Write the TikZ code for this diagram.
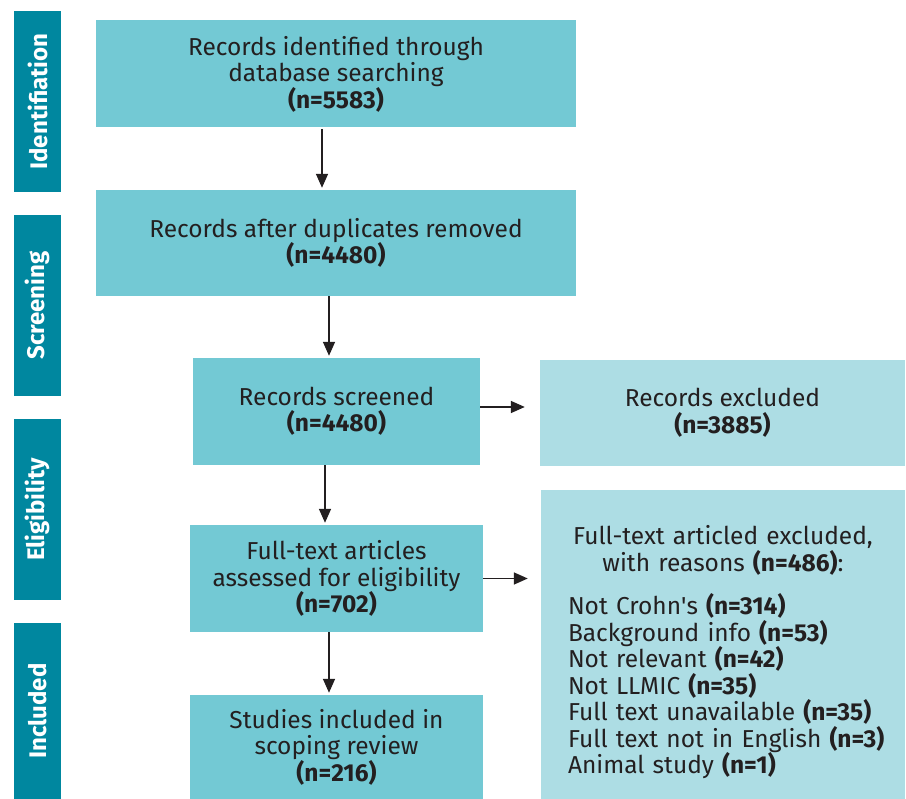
\documentclass[tikz,border=0pt]{standalone}
\usepackage{fontspec}
\setmainfont{Fira Sans}
\usetikzlibrary{arrows.meta}
\definecolor{bardark}{HTML}{00879F}
\definecolor{boxmid}{HTML}{73C9D4}
\definecolor{boxlight}{HTML}{ADDDE4}
\definecolor{txtdark}{HTML}{231F20}

\begin{document}
\begin{tikzpicture}[
    x=1pt, y=-1pt,
    stage/.style={fill=bardark, text=white, rotate=90, minimum height=47pt,
      inner sep=0pt, font=\fontsize{24}{26}\selectfont\bfseries},
    bx/.style={fill=boxmid, text=txtdark, align=center, inner sep=0pt,
      font=\fontsize{24.5}{26.5}\selectfont},
    arr/.style={-{Triangle[length=14pt,width=12pt]}, line width=1.5pt, draw=txtdark},
  ]
  \useasboundingbox (0,0) rectangle (906,799);
  % stage bars
  \node[stage, minimum width=181pt] (sid) at (37.5,101.5) {Identifiation};
  \node[stage, minimum width=181pt] (sscr) at (37.5,305.5) {Screening};
  \node[stage, minimum width=181pt] (selig) at (37.5,509.5) {Eligibility};
  \node[stage, minimum width=176pt] (sinc) at (37.5,711) {Included};
  % main column
  \node[bx, minimum width=480pt, minimum height=107pt] (ident) at (336,74)
    {Records identified through\\database searching\\\textbf{(n=5583)}};
  \node[bx, minimum width=480pt, minimum height=106pt] (dedup) at (336,243)
    {Records after duplicates removed\\\textbf{(n=4480)}};
  \node[bx, minimum width=287pt, minimum height=107pt] (screen) at (336.5,411.5)
    {Records screened\\\textbf{(n=4480)}};
  \node[bx, minimum width=293pt, minimum height=107pt] (full) at (336.5,578.5)
    {Full-text articles\\assessed for eligibility\\\textbf{(n=702)}};
  \node[bx, minimum width=293pt, minimum height=104pt] (incl) at (336.5,747)
    {Studies included in\\scoping review\\\textbf{(n=216)}};
  % exclusions
  \node[bx, fill=boxlight, minimum width=365pt, minimum height=106pt] (excl) at (722.5,413)
    {Records excluded\\\textbf{(n=3885)}};
  \node[bx, fill=boxlight, minimum width=364pt, minimum height=309pt, text width=330pt,
    align=left] (reasons) at (723,644.5)
    {\centering Full-text articled excluded,\\with reasons \textbf{(n=486)}:\par
     \vspace{17pt}\raggedright\leftskip=10pt
     Not Crohn\textquotesingle s \textbf{(n=314)}\\
     Background info \textbf{(n=53)}\\
     Not relevant \textbf{(n=42)}\\
     Not LLMIC \textbf{(n=35)}\\
     Full text unavailable \textbf{(n=35)}\\
     Full text not in English \textbf{(n=3)}\\
     Animal study \textbf{(n=1)}\par\vspace{-16pt}};
  % arrows
  \draw[arr] ([xshift=-14pt,yshift=-1.5pt]ident.south) -- ([xshift=-14pt,yshift=2pt]dedup.north);
  \draw[arr] ([xshift=-7pt]dedup.south) -- ([xshift=-7.5pt,yshift=2pt]screen.north);
  \draw[arr] ([xshift=-11.5pt]screen.south) -- ([xshift=-11.5pt,yshift=2pt]full.north);
  \draw[arr] ([xshift=-7.5pt]full.south) -- ([xshift=-7.5pt,yshift=2pt]incl.north);
  \draw[arr] ([yshift=4.5pt]screen.east) -- ([xshift=-15pt,yshift=4.5pt]screen.east -| excl.west);
  \draw[arr] (full.east) -- ([xshift=-13pt]full.east -| reasons.west);
\end{tikzpicture}
\end{document}
